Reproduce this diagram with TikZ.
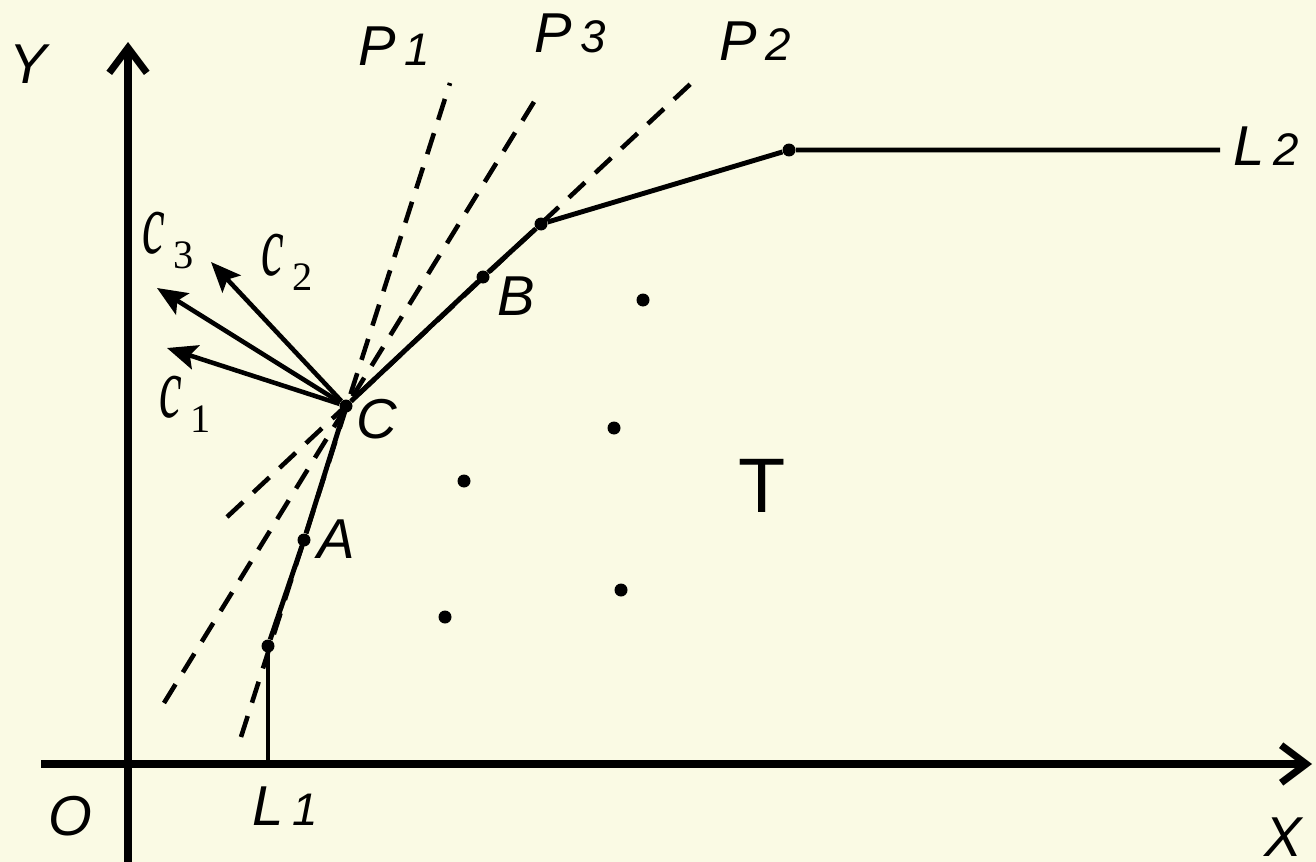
\documentclass[tikz,border=0pt]{standalone}
\usepackage{fontspec}
\setmainfont{Liberation Sans}
\newfontfamily\cfont{Liberation Serif}
\usetikzlibrary{arrows.meta, positioning}
\definecolor{paper}{RGB}{250,250,228}

\tikzset{
  axis/.style={line width=4pt, -{Straight Barb[length=0.5cm,width=0.75cm]}},
  polyline/.style={line width=2.8pt},
  ray/.style={line width=2.6pt, dash pattern=on 0.44cm off 0.28cm},
  vec/.style={line width=2.6pt, -{Stealth[length=0.6cm,width=0.5cm,inset=0.12cm]}},
  pt/.style={circle, fill=black, inner sep=0pt, minimum size=0.26cm},
  lbl/.style={inner sep=0pt, font=\fontsize{32}{36}\selectfont\itshape},
  clbl/.style={inner sep=0pt, anchor=base west},
}
\newcommand{\sublab}[2]{#1\hspace{5pt}{\fontsize{26}{28}\selectfont #2}}
\newcommand{\clab}[1]{{\cfont\itshape\scalebox{0.58}[1]{\fontsize{50}{50}\selectfont c}}\hspace{5pt}\raisebox{-9pt}{\cfont\fontsize{23}{23}\selectfont #1}}

\begin{document}
\begin{tikzpicture}[x=0.02cm, y=-0.02cm]
\useasboundingbox (0,0) rectangle (1316,862);
\fill[paper] (0,0) rectangle (1316,862);

% Axes
\coordinate (xfrom) at (41,764);
\coordinate (xto) at (1312,764);
\coordinate (yfrom) at (128,870);
\coordinate (yto) at (128,42);
\draw[axis] (xfrom) -- (xto);
\draw[axis] (yfrom) -- (yto);
\node[lbl] (olab) at (70,816) {O};
\node[lbl] (xlab) at (1283,837) {X};
\node[lbl] (ylab) at (28,64) {Y};

% Boundary points
\node[pt] (l1) at (268,646) {};
\node[pt] (a) at (304,540) {};
\node[pt] (c) at (346,406) {};
\node[pt] (b) at (483,277) {};
\node[pt] (k) at (541,224) {};
\node[pt] (m) at (789,150) {};
\coordinate (l1base) at (268,764);
\coordinate (l2end) at (1220,150);
\draw[line width=2pt] (l1base) -- (l1);
\draw[polyline] (l1) -- (a) -- (c) -- (b) -- (k) -- (m) -- (l2end);

% Inner points
\foreach \i/\px/\py in {1/643/300, 2/614/428, 3/464/481, 4/621/590, 5/445/617} {
  \node[pt] (t\i) at (\px,\py) {};
}

% Supporting lines through C
\coordinate (p1lo) at (241,737);
\coordinate (p1hi) at (450,83);
\coordinate (p3lo) at (164,703);
\coordinate (p3hi) at (537,97);
\coordinate (p2lo) at (227,517);
\coordinate (p2hi) at (699,76);
\draw[ray] (p1lo) -- (p1hi);
\draw[ray] (p3lo) -- (p3hi);
\draw[ray] (p2lo) -- (p2hi);

% Vectors
\coordinate (c1tip) at (167,348);
\coordinate (c2tip) at (211,262);
\coordinate (c3tip) at (157,288);
\draw[vec] (c) -- (c1tip);
\draw[vec] (c) -- (c2tip);
\draw[vec] (c) -- (c3tip);
\node[clbl] (c1lab) at (159,417) {\clab{1}};
\node[clbl] (c2lab) at (261,275) {\clab{2}};
\node[clbl] (c3lab) at (142,253) {\clab{3}};

% Labels
\node[lbl] (alab) at (336,539) {A};
\node[lbl] (blab) at (516,296) {B};
\node[lbl] (clab) at (377,419) {C};
\node[lbl] (p1lab) at (394,46) {\sublab{P}{1}};
\node[lbl] (p3lab) at (570,33) {\sublab{P}{3}};
\node[lbl] (p2lab) at (755,41) {\sublab{P}{2}};
\node[lbl] (l1lab) at (285,806) {\sublab{L}{1}};
\node[lbl] (l2lab) at (1266,146) {\sublab{L}{2}};
\node[inner sep=0pt, font=\fontsize{44}{48}\selectfont] (tlab) at (762,486) {T};
\end{tikzpicture}
\end{document}
